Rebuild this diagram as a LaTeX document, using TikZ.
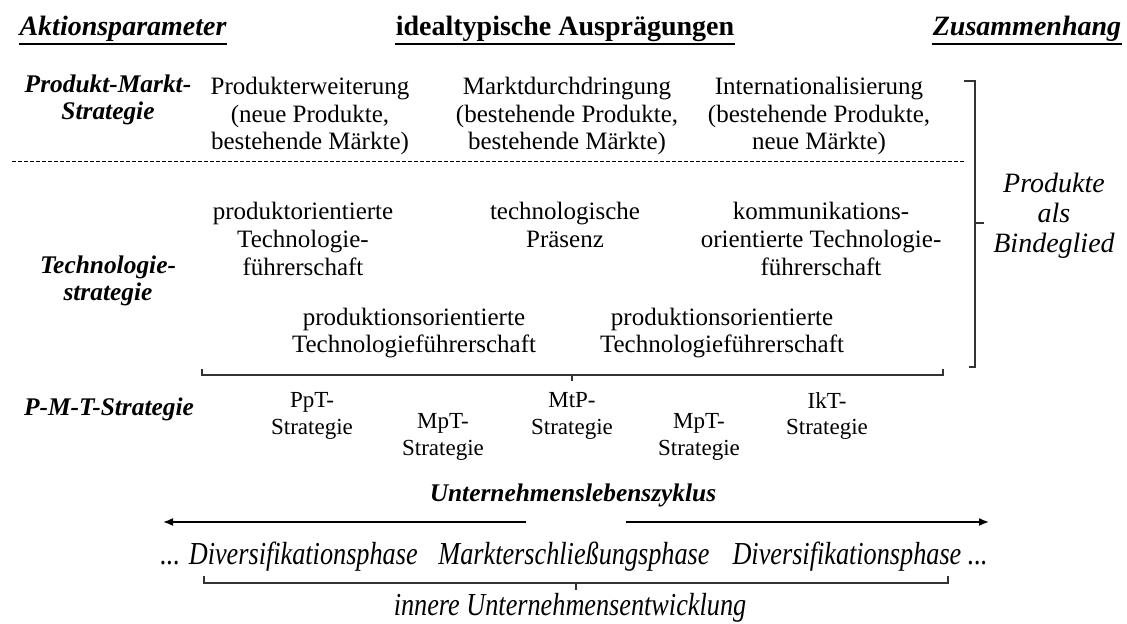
\documentclass[tikz,border=0pt]{standalone}
\usepackage{fontspec}
\usepackage{graphicx}
\setmainfont{Liberation Serif}
\usetikzlibrary{arrows.meta}

\tikzset{
  head/.style={font=\fontsize{14}{16}\selectfont\bfseries, inner sep=0pt, anchor=base},
  headit/.style={head, font=\fontsize{14}{16}\selectfont\bfseries\itshape},
  uline/.style={line width=1.1pt},
  rowlabel/.style={font=\fontsize{12.7}{13.5}\selectfont\bfseries\itshape, align=center, inner sep=0pt},
  item/.style={font=\fontsize{12.5}{13.8}\selectfont, align=center, inner sep=0pt},
  strat/.style={font=\fontsize{11.5}{13.3}\selectfont, align=center, inner sep=0pt},
  link/.style={font=\fontsize{14}{15}\selectfont\itshape, align=center, inner sep=0pt},
  phase/.style={font=\fontsize{16}{18}\selectfont\itshape, inner sep=0pt},
  bracebar/.style={draw=black!80, line width=0.6pt},
  cycle/.style={line width=0.8pt, -{Latex[length=5pt,width=4pt]}},
}

% condensed setting of the life-cycle phases
\newcommand{\narrow}[1]{\scalebox{0.82}[1]{#1}}

\begin{document}
\begin{tikzpicture}[x=0.5pt,y=-0.5pt]
\useasboundingbox (0,0) rectangle (1127,624);

% column headings
\node[headit] (hA) at (123,36) {Aktionsparameter};
\node[head]   (hI) at (565,36) {idealtypische Ausprägungen};
\node[headit] (hZ) at (1027,36) {Zusammenhang};
\foreach \h in {hA,hI,hZ}
  \draw[uline] ([yshift=-4pt]\h.base west) -- ([yshift=-4pt]\h.base east);

% product-market strategy
\node[rowlabel] (lPM) at (108,100) {Produkt-Markt-\\Strategie};
\node[item] (pm1) at (310,116) {Produkterweiterung\\(neue Produkte,\\bestehende Märkte)};
\node[item] (pm2) at (567,116) {Marktdurchdringung\\(bestehende Produkte,\\bestehende Märkte)};
\node[item] (pm3) at (819,116) {Internationalisierung\\(bestehende Produkte,\\neue Märkte)};

\coordinate (dL) at (12,162);
\coordinate (dR) at (966,162);
\draw[dash pattern=on 2pt off 1pt, line width=0.5pt] (dL) -- (dR);

% technology strategy
\node[rowlabel] (lT) at (108,281) {Technologie-\\strategie};
\node[item] (t1) at (303,239) {produktorientierte\\Technologie-\\führerschaft};
\node[item] (t2) at (565,225) {technologische\\Präsenz};
\node[item] (t3) at (821,239) {kommunikations-\\orientierte Technologie-\\führerschaft};
\node[item] (t4) at (414,333) {produktionsorientierte\\Technologieführerschaft};
\node[item] (t5) at (722,333) {produktionsorientierte\\Technologieführerschaft};

% brace joining the technology options
\coordinate (b1L) at (202,375);
\coordinate (b1R) at (943,375);
\coordinate (b1M) at (572,375);
\draw[bracebar] ([yshift=3pt]b1L) -- (b1L) -- (b1R) -- ([yshift=3pt]b1R);
\draw[bracebar] (b1M) -- ([yshift=-3pt]b1M);

% right bracket: products as the link
\coordinate (rT) at (975,81);
\coordinate (rB) at (975,367);
\coordinate (rM) at (975,223);
\draw[bracebar] ([xshift=-5.5pt]rT) -- (rT) -- (rB) -- ([xshift=-3pt]rB);
\draw[bracebar] (rM) -- ([xshift=4.5pt]rM);
\node[link] (lnk) at (1054,216) {Produkte\\als\\Bindeglied};

% P-M-T strategies
\node[rowlabel] (lPMT) at (109,409) {P-M-T-Strategie};
\node[strat] (s1) at (312,416) {PpT-\\Strategie};
\node[strat] (s2) at (443,437) {MpT-\\Strategie};
\node[strat] (s3) at (572,416) {MtP-\\Strategie};
\node[strat] (s4) at (699,437) {MpT-\\Strategie};
\node[strat] (s5) at (827,416) {IkT-\\Strategie};

% company life cycle
\node[rowlabel] (lc) at (573,495) {Unternehmenslebenszyklus};
\coordinate (aL0) at (526,522);
\coordinate (aL1) at (163,522);
\coordinate (aR0) at (626,522);
\coordinate (aR1) at (989,522);
\draw[cycle] (aL0) -- (aL1);
\draw[cycle] (aR0) -- (aR1);

\node[phase, anchor=west] (ph1) at (160,557) {\narrow{... Diversifikationsphase}};
\node[phase] (ph2) at (574,557) {\narrow{Markterschließungsphase}};
\node[phase, anchor=east] (ph3) at (988,557) {\narrow{Diversifikationsphase ...}};

\coordinate (b2L) at (204,583);
\coordinate (b2R) at (948,583);
\coordinate (b2M) at (576,583);
\draw[bracebar] ([yshift=3.5pt]b2L) -- (b2L) -- (b2R) -- ([yshift=3.5pt]b2R);
\draw[bracebar] (b2M) -- ([yshift=-3.5pt]b2M);

\node[phase] (inner) at (570,608) {\narrow{innere Unternehmensentwicklung}};
\end{tikzpicture}
\end{document}
